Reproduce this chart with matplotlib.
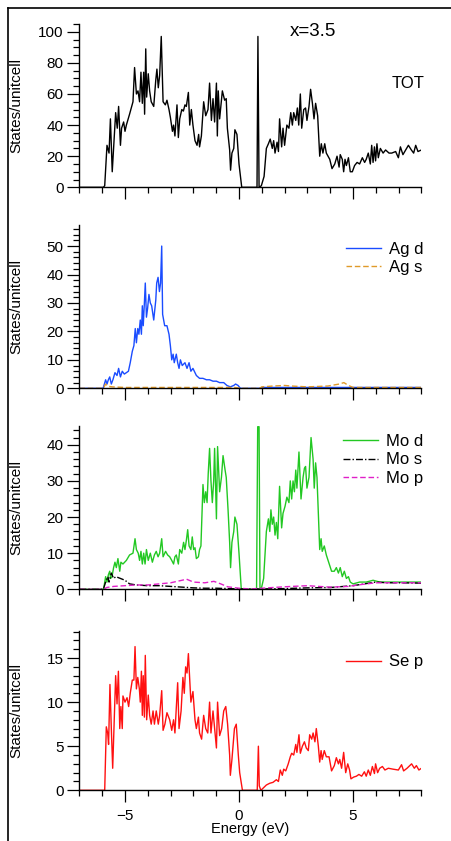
import matplotlib
matplotlib.use("Agg")
import matplotlib.pyplot as plt
from matplotlib.ticker import MultipleLocator
from matplotlib.lines import Line2D

plt.rcParams['font.family'] = ['Liberation Sans', 'DejaVu Sans']

# ---- total DOS ----
tot_e = [-7.0, -5.95, -5.89, -5.79, -5.70, -5.64, -5.56, -5.45, -5.41, -5.34, -5.28, -5.20, -5.15, -5.06,
         -5.00, -4.94, -4.80, -4.65, -4.58, -4.50, -4.43, -4.36, -4.30, -4.24, -4.18, -4.14, -4.09, -4.05,
         -3.98, -3.92, -3.85, -3.74, -3.65, -3.60, -3.54, -3.48, -3.41, -3.33, -3.23, -3.16, -3.07, -3.01,
         -2.92, -2.87, -2.81, -2.72, -2.66, -2.60, -2.51, -2.44, -2.37, -2.31, -2.22, -2.16, -2.09, -2.02,
         -1.93, -1.84, -1.77, -1.73, -1.65, -1.55, -1.46, -1.36, -1.29, -1.21, -1.14, -1.07, -0.99, -0.95,
         -0.91, -0.85, -0.73, -0.63, -0.56, -0.51, -0.41, -0.37, -0.31, -0.23, -0.18, -0.09, 0.00, 0.12,
         0.79, 0.83, 0.88, 0.98, 1.10, 1.20, 1.29, 1.37, 1.46, 1.52, 1.58, 1.67, 1.73, 1.78, 1.87, 1.93,
         2.00, 2.10, 2.19, 2.27, 2.34, 2.40, 2.49, 2.56, 2.62, 2.69, 2.75, 2.84, 2.92, 2.98, 3.07, 3.14,
         3.22, 3.29, 3.36, 3.45, 3.54, 3.61, 3.68, 3.76, 3.83, 3.98, 4.08, 4.20, 4.30, 4.39, 4.44, 4.53,
         4.59, 4.65, 4.71, 4.80, 4.88, 4.97, 5.07, 5.18, 5.29, 5.41, 5.51, 5.58, 5.67, 5.76, 5.82, 5.88,
         5.94, 5.99, 6.05, 6.11, 6.20, 6.32, 6.43, 6.58, 6.70, 6.87, 6.99, 7.08, 7.19, 7.31, 7.43, 7.56,
         7.66, 7.75, 7.85, 8.00]
tot_dos = [0, 0, 1, 27, 22, 44, 10, 37, 48, 38, 52, 27, 38, 42,
           36, 40, 47, 55, 77, 60, 62, 55, 74, 54, 74, 47, 89, 58,
           73, 62, 55, 52, 69, 76, 64, 72, 97, 55, 53, 56, 50, 45,
           36, 40, 33, 53, 32, 44, 50, 49, 53, 52, 61, 40, 50, 40,
           30, 27, 34, 26, 33, 55, 46, 50, 67, 43, 57, 42, 67, 33,
           62, 44, 62, 56, 57, 38, 24, 11, 22, 25, 37, 34, 15, 0,
           0, 97, 0, 1, 7, 25, 28, 31, 25, 30, 22, 29, 23, 44, 26, 38,
           27, 40, 38, 48, 40, 48, 43, 51, 40, 60, 38, 50, 51, 43, 52, 63,
           54, 44, 54, 46, 20, 28, 22, 28, 22, 18, 12, 15, 20, 13, 21, 18,
           10, 18, 14, 19, 10, 10, 14, 16, 15, 19, 16, 18, 22, 15, 27, 16,
           26, 17, 28, 19, 25, 22, 24, 22, 22, 23, 19, 26, 21, 24, 27, 24,
           22, 27, 23, 24]

# ---- Ag ----
agd_e = [-7.0, -5.96, -5.85, -5.79, -5.73, -5.67, -5.60, -5.53, -5.44, -5.35, -5.28, -5.20, -5.12, -5.03,
         -4.94, -4.85, -4.77, -4.68, -4.61, -4.55, -4.50, -4.44, -4.39, -4.33, -4.28, -4.24, -4.20, -4.15,
         -4.11, -4.06, -4.01, -3.95, -3.89, -3.83, -3.74, -3.65, -3.61, -3.55, -3.49, -3.44, -3.39, -3.35,
         -3.26, -3.16, -3.07, -3.01, -2.95, -2.89, -2.84, -2.75, -2.69, -2.63, -2.57, -2.49, -2.37, -2.28,
         -2.19, -2.11, -2.02, -1.87, -1.73, -1.58, -1.43, -1.29, -1.14, -0.99, -0.85, -0.67, -0.53, -0.38,
         -0.23, -0.15, -0.04, 0.06, 0.90, 1.00, 2.0, 3.0, 4.0, 5.0, 6.0, 7.0, 8.0]
agd_dos = [0, 0, 3, 1.5, 3, 4, 1.5, 3, 5.5, 4.5, 7, 4, 6, 5,
           5.5, 6, 9, 13, 15, 21, 16, 21, 19, 24, 19, 29, 22, 30,
           37, 25, 28, 33, 30, 29, 24, 31, 37, 39, 34, 37, 50, 26,
           22, 22, 19, 15, 10, 12, 9, 12, 9, 7, 10, 8, 9, 7,
           9, 6, 7, 4.5, 3.5, 3.5, 3, 3, 2.5, 2.5, 2, 2, 1, 0.5,
           1, 1.5, 1, 0, 0, 0.3, 0.3, 0.3, 0.3, 0.3, 0.3, 0.3, 0.3]
ags_e = [-7.0, -5.95, -5.85, -5.75, -5.55, -5.0, -4.0, -3.0, -2.0, -1.0, -0.2, 0.1, 0.9, 1.0, 1.5,
         2.0, 2.3, 3.0, 3.9, 4.4, 4.6, 4.8, 5.0, 6.0, 7.0, 8.0]
ags_dos = [0, 0, 1.5, 0.7, 0.5, 0.3, 0.3, 0.3, 0.3, 0.3, 0.3, 0, 0, 0.5, 0.8,
           1.0, 0.8, 0.5, 0.8, 1.5, 2.0, 1.0, 0.3, 0.3, 0.3, 0.3]

# ---- Mo ----
mod_e = [-7.0, -5.94, -5.85, -5.79, -5.73, -5.67, -5.63, -5.57, -5.50, -5.44, -5.38, -5.31, -5.23, -5.18,
         -5.09, -4.94, -4.80, -4.65, -4.56, -4.50, -4.42, -4.36, -4.30, -4.24, -4.18, -4.12, -4.06, -3.98,
         -3.89, -3.80, -3.71, -3.63, -3.55, -3.48, -3.39, -3.33, -3.22, -3.13, -3.04, -2.95, -2.87, -2.81,
         -2.75, -2.66, -2.60, -2.51, -2.43, -2.37, -2.31, -2.25, -2.19, -2.11, -2.05, -1.99, -1.93, -1.87,
         -1.78, -1.73, -1.67, -1.58, -1.52, -1.46, -1.40, -1.35, -1.29, -1.23, -1.17, -1.11, -1.07, -0.99,
         -0.94, -0.85, -0.77, -0.70, -0.61, -0.56, -0.48, -0.41, -0.37, -0.31, -0.23, -0.18, -0.09, 0.00,
         0.10, 0.77, 0.82, 0.88, 0.92, 0.99, 1.08, 1.20, 1.29, 1.35, 1.40, 1.46, 1.52, 1.58, 1.64, 1.70,
         1.78, 1.87, 1.93, 2.02, 2.10, 2.19, 2.25, 2.31, 2.37, 2.43, 2.49, 2.54, 2.63, 2.72, 2.81, 2.87,
         2.92, 2.98, 3.07, 3.16, 3.25, 3.30, 3.36, 3.42, 3.54, 3.60, 3.65, 3.74, 3.83, 3.98, 4.06, 4.18,
         4.27, 4.36, 4.44, 4.53, 4.62, 4.71, 4.80, 4.88, 5.00, 5.29, 5.58, 5.88, 6.17, 6.46, 7.05, 7.63, 8.00]
mod_dos = [0, 0, 3.5, 2, 4, 5, 3, 3.5, 6, 7.5, 6, 8.5, 5, 7.5,
           7, 8, 9.5, 10, 14, 11, 10, 8, 10.5, 7, 10, 7, 11, 8,
           10, 7.5, 9.5, 10.5, 9, 10, 14, 9, 10.5, 9.5, 9, 8, 7, 9,
           9.5, 7, 11, 10, 13, 11, 13.5, 16.5, 12, 11, 14.5, 11, 11.5, 8.5,
           9, 11, 12, 29, 24, 27, 24, 32, 39, 30, 24, 30, 39, 19.5,
           39.5, 27, 31, 37, 33, 31, 22, 13, 6, 13, 16, 20, 18, 10,
           0, 0, 45, 45, 0, 0.5, 3, 16, 19.5, 16, 22, 18, 20, 15, 18.5, 14,
           28.5, 17, 21, 23, 25.5, 24, 30, 25, 30, 27, 33, 28, 38, 25, 31, 33.5,
           34, 28, 31, 42, 36, 28, 35, 31, 11, 14, 10.5, 12, 9.5, 6.5, 5, 5,
           6, 4.5, 6, 3.5, 5, 3, 3.5, 2, 1.5, 2, 2, 2.5, 2, 2, 2, 2, 2]
mos_e = [-7.0, -5.95, -5.85, -5.75, -5.70, -5.60, -5.50, -5.40, -5.20, -5.00, -4.80, -4.50, -4.00, -3.50,
         -3.00, -2.50, -2.00, -1.50, -1.00, -0.50, 0.00, 1.00, 2.00, 3.00, 4.00, 5.00, 5.50, 6.00, 6.50,
         7.00, 8.00]
mos_dos = [0, 0, 2, 3.5, 2, 4.5, 3, 3.5, 3, 2.5, 1.5, 1.2, 1, 1,
           0.8, 0.6, 0.4, 0.3, 0.3, 0.2, 0.1, 0.1, 0.2, 0.4, 0.5, 1.0, 1.5, 2, 1.8,
           1.8, 1.7]
mop_e = [-7.0, -5.95, -5.80, -5.50, -5.00, -4.50, -4.00, -3.50, -3.00, -2.50, -2.30, -2.00, -1.50, -1.10,
         -0.80, -0.50, 0.00, 0.50, 1.00, 2.00, 3.00, 4.00, 4.80, 5.20, 6.00, 7.00, 8.00]
mop_dos = [0, 0, 0.5, 0.8, 1.0, 1.2, 1.2, 1.5, 1.8, 2.5, 2.8, 2.0, 1.8, 2.2,
           1.5, 0.7, 0.3, 0.1, 0.3, 0.7, 1.0, 0.6, 0.8, 1.2, 1.8, 1.8, 1.8]

# ---- Se ----
sep_e = [-7.0, -5.89, -5.82, -5.76, -5.72, -5.66, -5.60, -5.54, -5.47, -5.41, -5.35, -5.29, -5.23, -5.18,
         -5.12, -5.09, -5.00, -4.91, -4.84, -4.77, -4.68, -4.61, -4.56, -4.50, -4.44, -4.37, -4.33, -4.28,
         -4.24, -4.20, -4.15, -4.11, -4.05, -3.98, -3.92, -3.85, -3.77, -3.71, -3.63, -3.54, -3.48, -3.39,
         -3.33, -3.25, -3.16, -3.04, -2.95, -2.87, -2.81, -2.69, -2.63, -2.54, -2.46, -2.40, -2.34, -2.28,
         -2.22, -2.16, -2.11, -2.02, -1.93, -1.87, -1.78, -1.73, -1.64, -1.55, -1.46, -1.37, -1.29, -1.23,
         -1.14, -1.05, -0.99, -0.94, -0.85, -0.76, -0.67, -0.58, -0.50, -0.41, -0.38, -0.31, -0.20, -0.12,
         -0.03, 0.03, 0.15, 0.80, 0.85, 0.89, 0.96, 1.08, 1.20, 1.35, 1.49, 1.64, 1.73, 1.81, 1.90, 1.96,
         2.05, 2.16, 2.25, 2.31, 2.40, 2.49, 2.54, 2.63, 2.69, 2.78, 2.87, 2.95, 3.04, 3.10, 3.19, 3.25,
         3.33, 3.39, 3.48, 3.54, 3.60, 3.65, 3.74, 3.83, 3.95, 4.06, 4.18, 4.27, 4.36, 4.42, 4.50, 4.59,
         4.68, 4.77, 4.85, 4.91, 5.03, 5.15, 5.26, 5.38, 5.50, 5.58, 5.67, 5.76, 5.85, 5.94, 5.99, 6.08,
         6.17, 6.29, 6.40, 6.55, 6.75, 6.99, 7.13, 7.22, 7.37, 7.57, 7.69, 7.78, 7.89, 8.00]
sep_dos = [0, 0, 7.2, 6.5, 5.2, 12, 7, 2.5, 8, 13, 9.8, 13.5, 7, 9.5,
           7, 10.7, 10, 10.5, 9.5, 11, 12.5, 12.5, 16.3, 11.5, 12.8, 11.5, 10, 13.5,
           8.5, 13, 8.3, 15.3, 8, 10.8, 8.5, 7.5, 9, 7.5, 9, 7.5, 8.5, 11.3,
           6.8, 7.5, 8.8, 8, 6.8, 8, 6.5, 12.2, 7, 9, 12.8, 11, 14, 13.3,
           15.5, 12.5, 10, 11.2, 8, 7, 8.3, 6.5, 5.8, 8.5, 7, 6.5, 10, 6.5,
           9, 6.5, 4.8, 10, 6.2, 7, 9, 9.5, 7.5, 4, 1.7, 3.5, 7, 7.5,
           4, 2, 0, 0, 5, 0.5, 0, 0.3, 0.6, 0.8, 0.9, 1.2, 1.0, 2.3, 1.7, 2.4,
           2.2, 3, 3.8, 4.2, 4.0, 5.2, 4.3, 6.3, 4.2, 5, 5.5, 4.8, 4.5, 6.3, 5.8, 6.5,
           5.5, 7, 5, 3.2, 4.5, 3.5, 4.5, 3.8, 3.8, 2.2, 2.8, 3.7, 3.0, 3.5, 2.5, 4.3,
           2.0, 3.0, 2.3, 1.3, 1.5, 1.6, 1.8, 1.6, 2.1, 1.6, 2.3, 1.7, 2.7, 1.9, 3, 2,
           2.5, 2.7, 2.3, 2.5, 2.4, 2.3, 2.9, 2.2, 2.5, 3.0, 2.5, 2.8, 2.3, 2.5]

W, H = 452, 841
fig = plt.figure(figsize=(W / 100, H / 100), dpi=100)

# panel boxes in pixels: (top, bottom)
boxes = [(24, 187.3), (225, 388.3), (426, 589.3), (630.7, 790.3)]
x0, x1 = 79.4, 421.4
ylims = [(0, 105), (0, 57.4), (0, 45.2), (0, 18.1)]
ymaj = [20, 10, 10, 5]
ymin = [5, 2, 2, 1]

axes = []
for (top, bot), yl, mj, mn in zip(boxes, ylims, ymaj, ymin):
    ax = fig.add_axes([x0 / W, 1 - bot / H, (x1 - x0) / W, (bot - top) / H])
    ax.set_xlim(-7, 8)
    ax.set_ylim(*yl)
    ax.xaxis.set_major_locator(MultipleLocator(5))
    ax.xaxis.set_minor_locator(MultipleLocator(1))
    ax.yaxis.set_major_locator(MultipleLocator(mj))
    ax.yaxis.set_minor_locator(MultipleLocator(mn))
    for s in ['top', 'right']:
        ax.spines[s].set_visible(False)
    for s in ['left', 'bottom']:
        ax.spines[s].set_linewidth(1.0)
    ax.tick_params(which='major', direction='out', length=8.5, width=0.9, labelsize=11, pad=3)
    ax.tick_params(axis='x', which='major', pad=5)
    ax.tick_params(which='minor', direction='out', length=4, width=0.9)
    ax.set_ylabel('States/unitcell', fontsize=11)
    ax.yaxis.set_label_coords(-0.163, 0.5)
    ax.patch.set_visible(False)
    axes.append(ax)

for ax in axes[:3]:
    ax.tick_params(axis='x', which='both', labelbottom=False)

lw = 1.0
axes[0].plot(tot_e, tot_dos, color='black', lw=lw)

axes[1].plot(agd_e, agd_dos, color='#1a4cff', lw=lw, label='Ag d')
axes[1].plot(ags_e, ags_dos, color='#e09a2a', lw=lw, ls=(0, (4, 2)), label='Ag s')

axes[2].plot(mod_e, mod_dos, color='#22c822', lw=lw, label='Mo d')
axes[2].plot(mos_e, mos_dos, color='black', lw=lw, ls=(0, (5, 1.5, 1, 1.5)), label='Mo s')
axes[2].plot(mop_e, mop_dos, color='#e020c8', lw=lw, ls=(0, (4, 2)), label='Mo p')

axes[3].plot(sep_e, sep_dos, color='#ff1010', lw=lw, label='Se p')
axes[3].set_xlabel('Energy (eV)', fontsize=10.5, labelpad=-1)

leg_y = [0.968, 1.022, 0.925]
for ax, ly in zip(axes[1:], leg_y):
    ax.legend(loc='upper right', bbox_to_anchor=(1.04, ly), frameon=False, fontsize=12,
              handlelength=2.1, handletextpad=0.5, labelspacing=0.2, borderpad=0.2)

fig.text(313 / W, 1 - 32 / H, 'x=3.5', fontsize=13.5, ha='center', va='center')
fig.text(425 / W, 1 - 83 / H, 'TOT', fontsize=12, ha='right', va='center')

# partial frame of the original figure
fig.add_artist(Line2D([8 / W, 1], [1 - 8 / H, 1 - 8 / H], color='black', lw=1.2))
fig.add_artist(Line2D([8 / W, 8 / W], [0, 1 - 8 / H], color='black', lw=1.2))

fig.savefig('out.png', dpi=100)
